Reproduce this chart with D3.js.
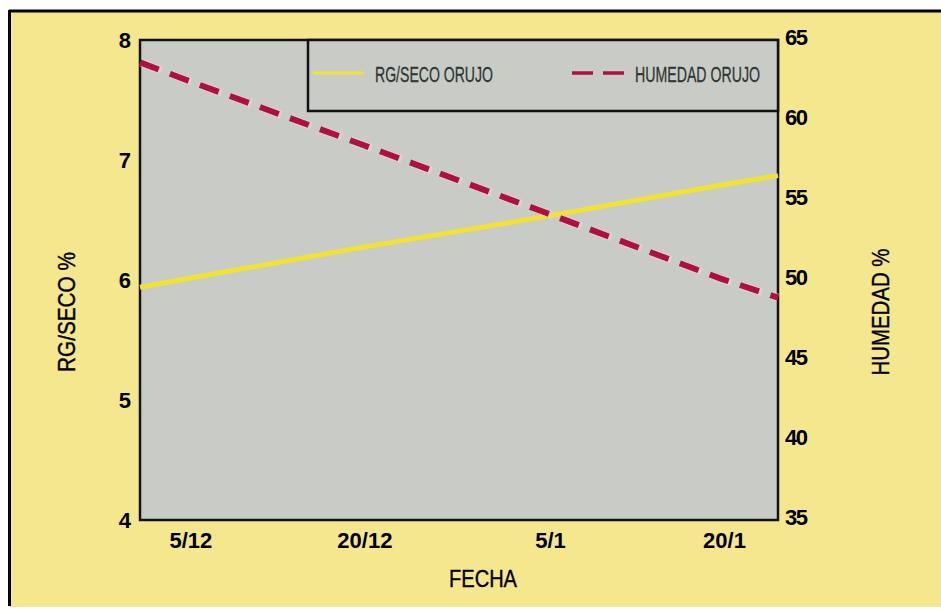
<!DOCTYPE html>
<html><head><meta charset="utf-8">
<script src="https://cdn.jsdelivr.net/npm/d3@7"></script>
<style>html,body{margin:0;padding:0;background:#fff;}svg{display:block;}</style>
</head><body>
<svg id="c" width="941" height="609"></svg>
<script>
// Data
const dates = ["1990-12-01","1990-12-05","1990-12-20","1991-01-05","1991-01-20","1991-01-25"];
const rgSeco = [5.94, 6.01, 6.27, 6.53, 6.79, 6.87];
const humedad = [63.6, 62.5, 58.5, 54.2, 50.1, 48.9];
const xTickDates = ["1990-12-05","1990-12-20","1991-01-05","1991-01-20"];
const xTickLabels = ["5/12","20/12","5/1","20/1"];
const leftTicks = [4,5,6,7,8];
const rightTicks = [35,40,45,50,55,60,65];
const seriesNames = ["RG/SECO ORUJO","HUMEDAD ORUJO"];

const svg = d3.select("#c");
const W=941,H=609;
const m={l:140,r:778,t:40,b:520};
const parse = d3.utcParse("%Y-%m-%d");

// background
svg.append("rect").attr("x",0).attr("y",0).attr("width",W).attr("height",H).attr("fill","#fff");
svg.append("rect").attr("x",9).attr("y",10).attr("width",W-9).attr("height",597).attr("fill","#F4E78D");
svg.append("line").attr("x1",9).attr("x2",W).attr("y1",11).attr("y2",11).attr("stroke","#000").attr("stroke-width",3);
svg.append("line").attr("x1",9.5).attr("x2",9.5).attr("y1",10).attr("y2",606).attr("stroke","#000").attr("stroke-width",3);

const x = d3.scaleUtc().domain([parse(dates[0]),parse(dates[dates.length-1])]).range([m.l,m.r]);
const yL = d3.scaleLinear().domain([4,8]).range([m.b,m.t]);
const yR = d3.scaleLinear().domain([35,65]).range([m.b,m.t]);

// plot area
svg.append("rect").attr("x",m.l).attr("y",m.t).attr("width",m.r-m.l).attr("height",m.b-m.t)
  .attr("fill","#C9CCC6").attr("stroke","#111").attr("stroke-width",2.5);

const font="'Liberation Sans', Arial, sans-serif";

// left axis labels
const gL = svg.append("g").attr("transform",`translate(${m.l},0)`)
  .call(d3.axisLeft(yL).tickValues(leftTicks).tickSize(0).tickPadding(9).tickFormat(d3.format("d")));
gL.select(".domain").remove();
gL.selectAll("text").attr("font-family",font).attr("font-weight","bold").attr("font-size",22).attr("fill","#000");

// right axis labels
const gR = svg.append("g").attr("transform",`translate(${m.r},-3)`)
  .call(d3.axisRight(yR).tickValues(rightTicks).tickSize(0).tickPadding(7).tickFormat(d3.format("d")));
gR.select(".domain").remove();
gR.selectAll("text").attr("font-family",font).attr("font-weight","bold").attr("font-size",22).attr("fill","#000").attr("letter-spacing","-1.5");

// x axis labels
const gX = svg.append("g").attr("transform",`translate(0,${m.b})`)
  .call(d3.axisBottom(x).tickValues(xTickDates.map(parse)).tickSize(0).tickPadding(12)
    .tickFormat((d,i)=>xTickLabels[i]));
gX.select(".domain").remove();
gX.selectAll("text").attr("font-family",font).attr("font-weight","bold").attr("font-size",22).attr("fill","#000")
  .attr("dx",4);

// axis titles (condensed via textLength)
svg.append("text").attr("transform","translate(75,312) rotate(-90)").attr("text-anchor","middle")
  .attr("font-family",font).attr("font-size",24).attr("fill","#000").attr("stroke","#000").attr("stroke-width",0.4)
  .attr("textLength",120).attr("lengthAdjust","spacingAndGlyphs").text("RG/SECO %");
svg.append("text").attr("transform","translate(889,312) rotate(-90)").attr("text-anchor","middle")
  .attr("font-family",font).attr("font-size",24).attr("fill","#000").attr("stroke","#000").attr("stroke-width",0.4)
  .attr("textLength",127).attr("lengthAdjust","spacingAndGlyphs").text("HUMEDAD %");
svg.append("text").attr("x",483).attr("y",587).attr("text-anchor","middle")
  .attr("font-family",font).attr("font-size",24).attr("fill","#000").attr("stroke","#000").attr("stroke-width",0.4)
  .attr("textLength",68).attr("lengthAdjust","spacingAndGlyphs").text("FECHA");

// lines
const pts1 = dates.map((d,i)=>[parse(d),rgSeco[i]]);
const pts2 = dates.map((d,i)=>[parse(d),humedad[i]]);
const lineL = d3.line().x(d=>x(d[0])).y(d=>yL(d[1]));
const lineR = d3.line().x(d=>x(d[0])).y(d=>yR(d[1]));

svg.append("path").attr("d",lineL(pts1)).attr("fill","none").attr("stroke","#F1E236").attr("stroke-width",5);
svg.append("path").attr("d",lineR(pts2)).attr("fill","none").attr("stroke","#E6D9D9").attr("stroke-width",8)
  .attr("stroke-dasharray","22 10").attr("stroke-dashoffset",-1).attr("opacity",0.5);
svg.append("path").attr("d",lineR(pts2)).attr("fill","none").attr("stroke","#B0103F").attr("stroke-width",6)
  .attr("stroke-dasharray","20 12");

// legend
svg.append("rect").attr("x",308).attr("y",m.t).attr("width",m.r-308).attr("height",71)
  .attr("fill","#C9CCC6").attr("stroke","#111").attr("stroke-width",2.5);
svg.append("line").attr("x1",313).attr("x2",364).attr("y1",73).attr("y2",73).attr("stroke","#F1E236").attr("stroke-width",3);
svg.append("text").attr("x",375).attr("y",82).attr("font-family",font).attr("font-size",22).attr("fill","#2E3632")
  .attr("stroke","#2E3632").attr("stroke-width",0.3)
  .attr("textLength",118).attr("lengthAdjust","spacingAndGlyphs").text(seriesNames[0]);
svg.append("line").attr("x1",572).attr("x2",625).attr("y1",73).attr("y2",73).attr("stroke","#B0103F").attr("stroke-width",3.5)
  .attr("stroke-dasharray","21 10");
svg.append("text").attr("x",635).attr("y",82).attr("font-family",font).attr("font-size",22).attr("fill","#2E3632")
  .attr("stroke","#2E3632").attr("stroke-width",0.3)
  .attr("textLength",125).attr("lengthAdjust","spacingAndGlyphs").text(seriesNames[1]);
</script>
</body></html>
